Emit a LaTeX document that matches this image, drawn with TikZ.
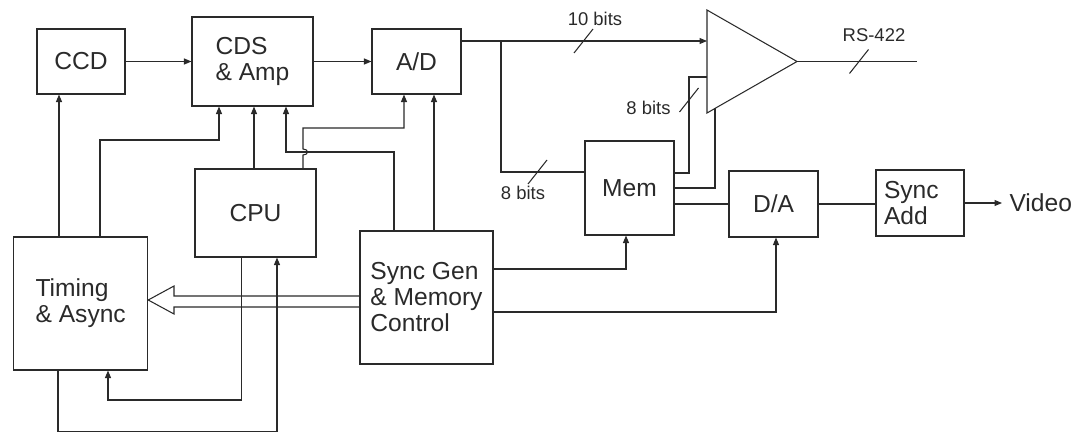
\documentclass[tikz,border=0pt]{standalone}
\usepackage{fontspec}
\setmainfont{Liberation Sans}
\usetikzlibrary{arrows.meta,calc}
\definecolor{ink}{HTML}{2A2A2A}

\begin{document}
\begin{tikzpicture}[x=0.02cm,y=-0.02cm, color=ink, line width=0.6pt,
  every node/.style={font=\fontsize{14}{14.8}\selectfont,align=center},
  box/.style 2 args={draw,minimum width=#1,minimum height=#2},
  bits/.style={font=\fontsize{10.5}{12}\selectfont,inner sep=0pt},
  arr/.style={-{Triangle[length=1.5mm,width=1.2mm]}}]
  \useasboundingbox (0,0) rectangle (1086,433);
  \node[box={17.6mm}{13mm}] (ccd) at (81,61.5) {CCD};
  \node[box={24.2mm}{17.8mm},align=left] (cds) at (252.5,61.5) {CDS\\\& Amp};
  \node[box={17.8mm}{13mm}] (ad) at (416.5,61.5) {A/D};
  \node[box={24.2mm}{17.6mm}] (cpu) at (255.5,213) {CPU};
  \node[box={26.8mm}{26.6mm},align=left] (timing) at (80.7,303.5) {Timing\\\& Async};
  \node[box={26.6mm}{26.6mm},align=left] (sync) at (426.5,297.5) {Sync Gen\\\& Memory\\Control};
  \node[box={17.8mm}{18.8mm}] (mem) at (629.5,188) {Mem};
  \node[box={17.8mm}{13.2mm}] (da) at (773.5,204) {D/A};
  \node[box={17.6mm}{13.2mm},align=left,text width=14.4mm,inner xsep=1.6mm] (add) at (920,203) {Sync\\Add};
  \node[anchor=west,inner sep=0pt] (video) at (1009,203) {Video};
  % line driver
  \coordinate (amptop) at (707,10);
  \coordinate (ampbot) at (707,113);
  \coordinate (amptip) at (797,61.5);
  \coordinate (ampin2) at ($(ampbot)!0.0889!(amptip)$);
  \coordinate (rsout) at (917,61.5);
  \coordinate (split) at (501,41);
  \draw (amptop) -- (amptip) -- (ampbot) -- cycle;
  % bus widths
  \node[bits] (l10) at (595,18.5) {10 bits};
  \node[bits] (lrs) at (874,35) {RS-422};
  \node[bits] (l8a) at (648.5,107.5) {8 bits};
  \node[bits] (l8b) at (523,192.5) {8 bits};
  \foreach \x/\y in {583.5/41,859/61.5,689/100,537.5/172}
    \draw (\x,\y) +(-9.5,12) -- +(9.5,-12);
  % signal path
  \draw[arr] (ccd) -- (cds);
  \draw[arr] (cds) -- (ad);
  \draw[arr] (ad.east |- split) -- (amptop |- split);
  \draw (split) |- (mem.west |- 0,172);
  \draw (mem.east |- 0,173) -| (689,77) -- (amptop |- 0,77);
  \draw (mem.east |- 0,188) -| (ampin2);
  \draw (mem.east |- da.west) -- (da.west);
  \draw (da.east) -- (add.west |- da.east);
  \draw[arr,shorten >=1.4mm] (add.east) -- (video.west);
  \draw (amptip) -- (rsout);
  % control lines
  \draw[arr] (timing.north -| 59,0) -- (ccd.south -| 59,0);
  \draw[arr] (timing.north -| 100,0) |- (219,140) -- (cds.south -| 219,0);
  \draw[arr] (cpu.north -| 254,0) -- (cds.south -| 254,0);
  \draw[arr] (cpu.north -| 303,0) -- (303,155) .. controls (309,155) and (309,149) .. (303,149) |- (404,128) -- (ad.south -| 404,0);
  \draw[arr] (sync.north -| 394,0) |- (286,152) -- (cds.south -| 286,0);
  \draw[arr] (sync.north -| 434,0) -- (ad.south -| 434,0);
  \draw[arr] (sync.east |- 0,269) -| (mem.south -| 626,0);
  \draw[arr] (sync.east |- 0,312) -| (da.south -| 776,0);
  \draw[arr] (cpu.south -| 241.7,0) |- (108,400) -- (timing.south -| 108,0);
  \draw[arr] (timing.south -| 58,0) |- (277,431.5) -- (cpu.south -| 277,0);
  % wide bus to timing
  \draw (sync.west |- 0,296) -- (174,296) -- (174,286) -- (timing.east |- 0,300)
    -- (174,314) -- (174,307) -- (sync.west |- 0,307);
\end{tikzpicture}
\end{document}
